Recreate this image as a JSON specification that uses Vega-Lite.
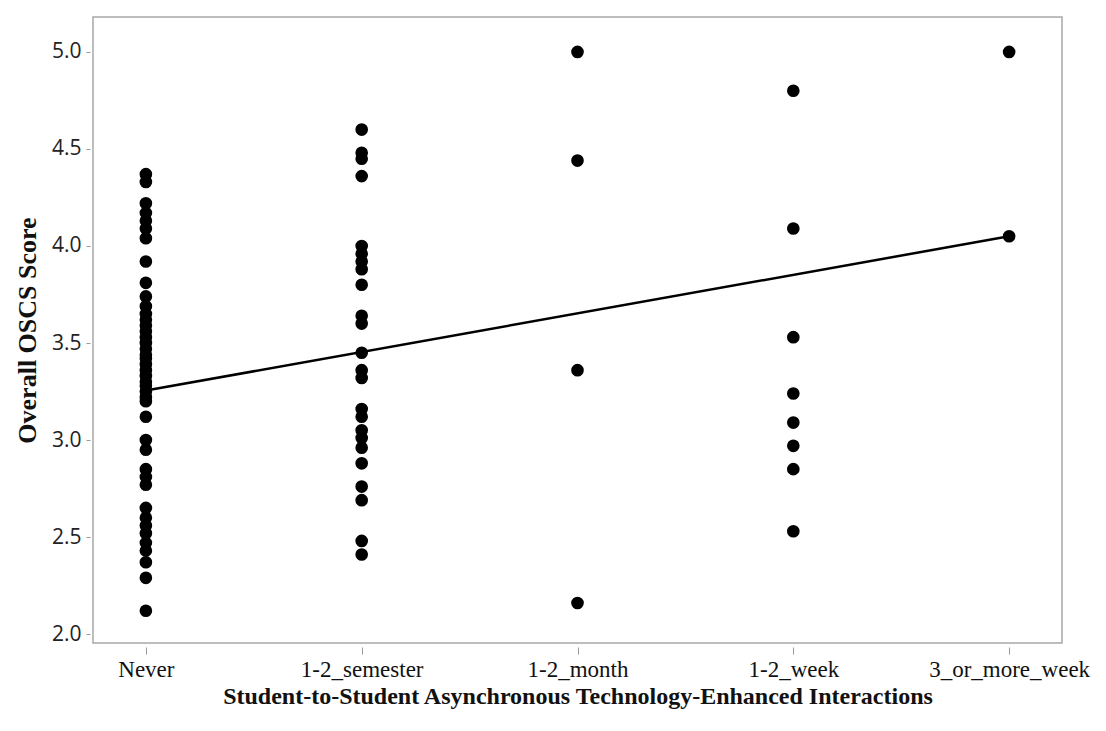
{
  "$schema": "https://vega.github.io/schema/vega-lite/v6.json",
  "autosize": {"type": "none"},
  "width": 969,
  "height": 626,
  "padding": {"left": 93, "top": 17, "right": 44, "bottom": 88},
  "background": "white",
  "config": {
    "view": {"stroke": "#a8a8a8", "strokeWidth": 1.5},
    "axis": {"grid": false, "domain": false}
  },
  "datasets": {
    "pts": [
      {"freq": "Never", "score": 4.37}, {"freq": "Never", "score": 4.33}, {"freq": "Never", "score": 4.22},
      {"freq": "Never", "score": 4.17}, {"freq": "Never", "score": 4.13}, {"freq": "Never", "score": 4.09},
      {"freq": "Never", "score": 4.04}, {"freq": "Never", "score": 3.92}, {"freq": "Never", "score": 3.81},
      {"freq": "Never", "score": 3.74}, {"freq": "Never", "score": 3.69}, {"freq": "Never", "score": 3.65},
      {"freq": "Never", "score": 3.62}, {"freq": "Never", "score": 3.59}, {"freq": "Never", "score": 3.56},
      {"freq": "Never", "score": 3.53}, {"freq": "Never", "score": 3.50}, {"freq": "Never", "score": 3.47},
      {"freq": "Never", "score": 3.44}, {"freq": "Never", "score": 3.42}, {"freq": "Never", "score": 3.39},
      {"freq": "Never", "score": 3.36}, {"freq": "Never", "score": 3.33}, {"freq": "Never", "score": 3.30},
      {"freq": "Never", "score": 3.28}, {"freq": "Never", "score": 3.25}, {"freq": "Never", "score": 3.22},
      {"freq": "Never", "score": 3.20}, {"freq": "Never", "score": 3.12}, {"freq": "Never", "score": 3.00},
      {"freq": "Never", "score": 2.95}, {"freq": "Never", "score": 2.85}, {"freq": "Never", "score": 2.81},
      {"freq": "Never", "score": 2.77}, {"freq": "Never", "score": 2.65}, {"freq": "Never", "score": 2.60},
      {"freq": "Never", "score": 2.56}, {"freq": "Never", "score": 2.52}, {"freq": "Never", "score": 2.47},
      {"freq": "Never", "score": 2.43}, {"freq": "Never", "score": 2.37}, {"freq": "Never", "score": 2.29},
      {"freq": "Never", "score": 2.12},
      {"freq": "1-2_semester", "score": 4.60}, {"freq": "1-2_semester", "score": 4.48}, {"freq": "1-2_semester", "score": 4.45},
      {"freq": "1-2_semester", "score": 4.36}, {"freq": "1-2_semester", "score": 4.00}, {"freq": "1-2_semester", "score": 3.96},
      {"freq": "1-2_semester", "score": 3.92}, {"freq": "1-2_semester", "score": 3.88}, {"freq": "1-2_semester", "score": 3.80},
      {"freq": "1-2_semester", "score": 3.64}, {"freq": "1-2_semester", "score": 3.60}, {"freq": "1-2_semester", "score": 3.45},
      {"freq": "1-2_semester", "score": 3.36}, {"freq": "1-2_semester", "score": 3.32}, {"freq": "1-2_semester", "score": 3.16},
      {"freq": "1-2_semester", "score": 3.12}, {"freq": "1-2_semester", "score": 3.05}, {"freq": "1-2_semester", "score": 3.01},
      {"freq": "1-2_semester", "score": 2.96}, {"freq": "1-2_semester", "score": 2.88}, {"freq": "1-2_semester", "score": 2.76},
      {"freq": "1-2_semester", "score": 2.69}, {"freq": "1-2_semester", "score": 2.48}, {"freq": "1-2_semester", "score": 2.41},
      {"freq": "1-2_month", "score": 5.00}, {"freq": "1-2_month", "score": 4.44}, {"freq": "1-2_month", "score": 3.36},
      {"freq": "1-2_month", "score": 2.16},
      {"freq": "1-2_week", "score": 4.80}, {"freq": "1-2_week", "score": 4.09}, {"freq": "1-2_week", "score": 3.53},
      {"freq": "1-2_week", "score": 3.24}, {"freq": "1-2_week", "score": 3.09}, {"freq": "1-2_week", "score": 2.97},
      {"freq": "1-2_week", "score": 2.85}, {"freq": "1-2_week", "score": 2.53},
      {"freq": "3_or_more_week", "score": 5.00}, {"freq": "3_or_more_week", "score": 4.05}
    ],
    "fit": [
      {"freq": "Never", "score": 3.255},
      {"freq": "3_or_more_week", "score": 4.05}
    ]
  },
  "encoding": {
    "x": {
      "field": "freq",
      "type": "ordinal",
      "sort": ["Never", "1-2_semester", "1-2_month", "1-2_week", "3_or_more_week"],
      "scale": {"type": "point", "padding": 0.245, "domain": ["Never", "1-2_semester", "1-2_month", "1-2_week", "3_or_more_week"]},
      "axis": {
        "title": "Student-to-Student Asynchronous Technology-Enhanced Interactions",
        "labelAngle": 0,
        "labelFont": "Liberation Serif",
        "labelFontSize": 23,
        "labelColor": "#111",
        "labelPadding": 4,
        "offset": 4,
        "tickSize": 7,
        "tickColor": "#999",
        "titleFont": "Liberation Serif",
        "titleFontWeight": "bold",
        "titleFontSize": 24,
        "titleColor": "#111",
        "titlePadding": 3
      }
    },
    "y": {
      "field": "score",
      "type": "quantitative",
      "scale": {"domain": [1.954, 5.18], "nice": false, "zero": false},
      "axis": {
        "title": "Overall OSCS Score",
        "values": [2.0, 2.5, 3.0, 3.5, 4.0, 4.5, 5.0],
        "format": ".1f",
        "labelFont": "Open Sans",
        "labelFontSize": 21,
        "labelColor": "#222",
        "labelPadding": 5,
        "offset": 3,
        "tickSize": 4,
        "tickColor": "#999",
        "titleFont": "Liberation Serif",
        "titleFontWeight": "bold",
        "titleFontSize": 26,
        "titleColor": "#111",
        "titlePadding": 11
      }
    }
  },
  "layer": [
    {
      "data": {"name": "fit"},
      "mark": {"type": "line", "color": "black", "strokeWidth": 2.5}
    },
    {
      "data": {"name": "pts"},
      "mark": {"type": "circle", "color": "black", "opacity": 1, "size": 160}
    }
  ]
}
